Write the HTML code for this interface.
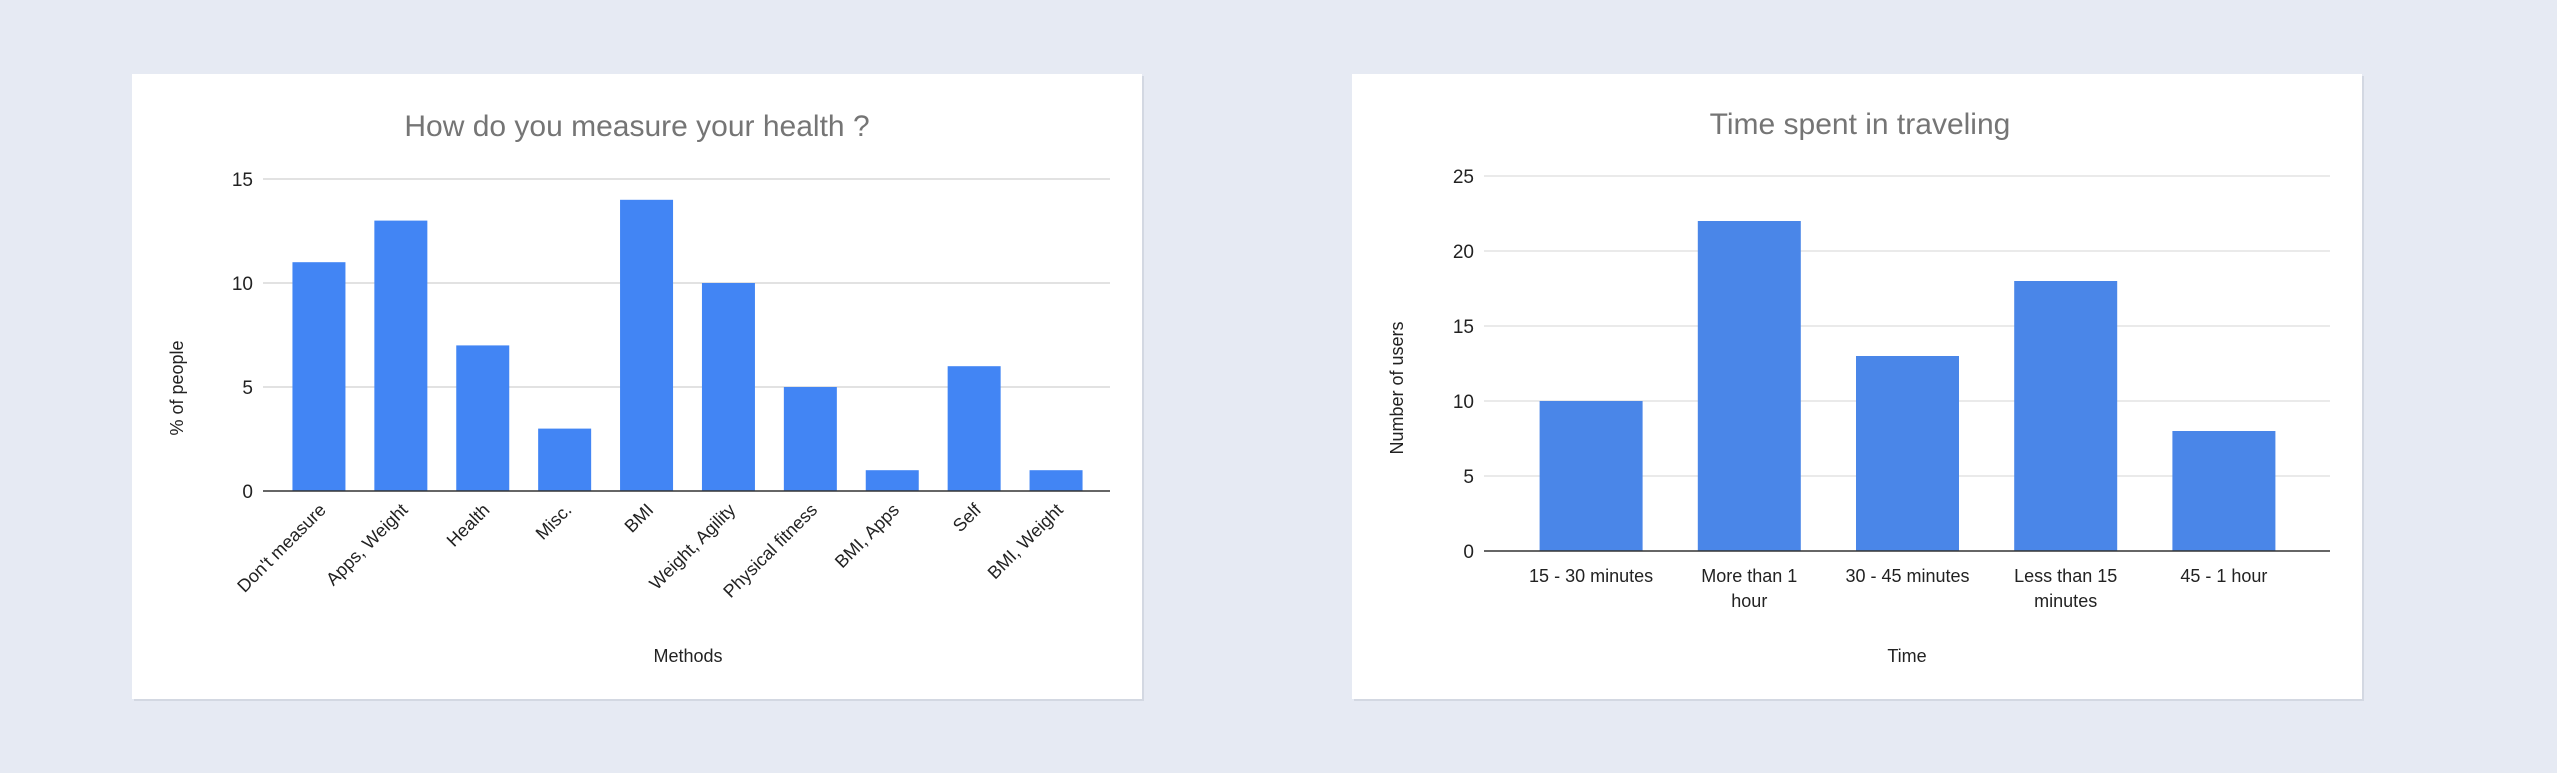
<!DOCTYPE html>
<html><head><meta charset="utf-8"><style>
html,body{margin:0;padding:0;width:2557px;height:773px;background:#e6eaf3;overflow:hidden}
svg{position:absolute;left:0;top:0}
text{font-family:"Liberation Sans",Arial,sans-serif}
</style></head><body>
<svg id="s" width="2557" height="773">
<rect x="134" y="76" width="1010" height="625" fill="#d3d8e2"/>
<rect x="132" y="74" width="1010" height="625" fill="#fff"/>
<rect x="1354" y="76" width="1010" height="625" fill="#d3d8e2"/>
<rect x="1352" y="74" width="1010" height="625" fill="#fff"/>
<g id="c1"></g>
<g id="c2"></g>
</svg>
<script>
const cats1=["Don't measure","Apps, Weight","Health","Misc.","BMI","Weight, Agility","Physical fitness","BMI, Apps","Self","BMI, Weight"];
const vals1=[11,13,7,3,14,10,5,1,6,1];
const ticks1=[0,5,10,15];
const cats2=[["15 - 30 minutes"],["More than 1","hour"],["30 - 45 minutes"],["Less than 15","minutes"],["45 - 1 hour"]];
const vals2=[10,22,13,18,8];
const ticks2=[0,5,10,15,20,25];
const NS="http://www.w3.org/2000/svg";
function mk(p,t,a,txt){const e=document.createElementNS(NS,t);for(const k in a)e.setAttribute(k,a[k]);if(txt!=null)e.textContent=txt;p.appendChild(e);return e;}
// chart 1
(function(){
const g=document.getElementById('c1');
const x0=278,x1=1097,y0=491,yTop=179,max=15;
const ys=v=>y0-(v/max)*(y0-yTop);
const band=(x1-x0)/cats1.length;
let t=mk(g,'text',{x:637,y:136,'text-anchor':'middle','font-size':30,fill:'#757575'},'How do you measure your health ?');


ticks1.forEach(v=>{
 if(v>0){const l=mk(g,'line',{x1:263,x2:1110,y1:ys(v),y2:ys(v),stroke:'#d9d9d9','stroke-width':1.5});
 
 }
 const tx=mk(g,'text',{x:253,y:ys(v)+7,'text-anchor':'end','font-size':19,fill:'#222'},String(v));
 
 
});
vals1.forEach((v,i)=>{
 const cx=x0+band*(i+0.5),w=53;
 const r=mk(g,'rect',{x:cx-w/2,y:ys(v),width:w,height:y0-ys(v),fill:'#4285f4'});
 
 
 const lb=mk(g,'text',{transform:`translate(${cx+8},${y0+20}) rotate(-45)`,'text-anchor':'end','font-size':18,fill:'#222'},cats1[i]);
 
 
});
const ax=mk(g,'line',{x1:263,x2:1110,y1:y0,y2:y0,stroke:'#333','stroke-width':1.5});


let xt=mk(g,'text',{x:688,y:662,'text-anchor':'middle','font-size':18,fill:'#222'},'Methods');


let yt=mk(g,'text',{transform:'translate(183,388) rotate(-90)','text-anchor':'middle','font-size':18,fill:'#222'},'% of people');


})();
// chart 2
(function(){
const g=document.getElementById('c2');
const x0=1512,x1=2303,y0=551,yTop=176,max=25;
const ys=v=>y0-(v/max)*(y0-yTop);
const band=(x1-x0)/cats2.length;
let t=mk(g,'text',{x:1860,y:134,'text-anchor':'middle','font-size':30,fill:'#757575'},'Time spent in traveling');


ticks2.forEach(v=>{
 if(v>0){const l=mk(g,'line',{x1:1484,x2:2330,y1:ys(v),y2:ys(v),stroke:'#e3e3e3','stroke-width':1.5});
 
 }
 const tx=mk(g,'text',{x:1474,y:ys(v)+7,'text-anchor':'end','font-size':19,fill:'#222'},String(v));
 
 
});
vals2.forEach((v,i)=>{
 const cx=x0+band*(i+0.5),w=103;
 const r=mk(g,'rect',{x:cx-w/2,y:ys(v),width:w,height:y0-ys(v),fill:'#4a86e8'});
 
 
 cats2[i].forEach((ln,j)=>{
  const lb=mk(g,'text',{x:cx,y:582+j*25,'text-anchor':'middle','font-size':18,fill:'#222'},ln);
  
  
 });
});
const ax=mk(g,'line',{x1:1484,x2:2330,y1:y0,y2:y0,stroke:'#333','stroke-width':1.5});


let xt=mk(g,'text',{x:1907,y:662,'text-anchor':'middle','font-size':18,fill:'#222'},'Time');


let yt=mk(g,'text',{transform:'translate(1403,388) rotate(-90)','text-anchor':'middle','font-size':18,fill:'#222'},'Number of users');


})();
</script>
</body></html>
